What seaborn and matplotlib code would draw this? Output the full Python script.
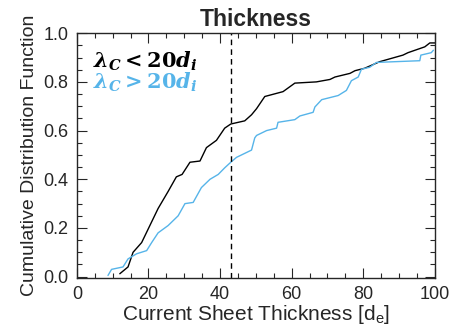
import numpy as np
import pandas as pd
import seaborn as sns
import matplotlib
matplotlib.use("Agg")
import matplotlib.pyplot as plt
from matplotlib.ticker import MultipleLocator, FormatStrFormatter

# Black curve (lambda_C < 20 d_i)
x_small = [12.0, 14.3, 15.7, 18.1, 20.4, 22.7, 25.5, 27.8, 29.4, 31.6, 34.4, 36.2, 39.0, 41.3,
           43.0, 46.9, 48.8, 50.2, 52.5, 57.6, 60.9, 66.9, 70.7, 72.1, 76.3, 77.7, 80.4,
           84.6, 91.1, 92.5, 97.2, 98.6, 100.0]
y_small = [0.012, 0.04, 0.10, 0.14, 0.21, 0.28, 0.35, 0.41, 0.42, 0.47, 0.475, 0.53, 0.56, 0.61,
           0.627, 0.64, 0.665, 0.69, 0.74, 0.76, 0.795, 0.80, 0.81, 0.82, 0.835, 0.846, 0.856,
           0.883, 0.91, 0.92, 0.944, 0.96, 0.96]

# Blue curve (lambda_C > 20 d_i)
x_large = [8.7, 9.7, 12.9, 14.3, 16.7, 19.5, 20.9, 22.7, 25.5, 28.3, 30.2, 32.5, 34.8, 37.2,
           39.5, 41.3, 43.0, 44.6, 46.0, 48.8, 49.7, 50.2, 53.0, 55.8, 56.2, 60.9, 62.3, 66.0,
           66.5, 68.4, 73.0, 75.3, 76.7, 78.6, 79.5, 81.8, 83.7, 95.8, 96.1, 99.0, 99.6]
y_large = [0.005, 0.03, 0.04, 0.073, 0.094, 0.107, 0.14, 0.18, 0.21, 0.25, 0.30, 0.305, 0.366, 0.40,
           0.42, 0.447, 0.47, 0.49, 0.50, 0.52, 0.57, 0.58, 0.60, 0.61, 0.634, 0.645, 0.66, 0.675,
           0.697, 0.727, 0.744, 0.765, 0.805, 0.82, 0.852, 0.86, 0.88, 0.887, 0.91, 0.92, 0.93]

threshold = 43.0
labels = [r'$\lambda_C < 20d_i$', r'$\lambda_C > 20d_i$']
colors = ['black', '#56B4E9']

sns.set_style("ticks")
plt.rcParams['font.family'] = ['Liberation Sans', 'DejaVu Sans']
plt.rcParams['mathtext.fontset'] = 'custom'
plt.rcParams['mathtext.rm'] = 'DejaVu Serif:bold'
plt.rcParams['mathtext.it'] = 'DejaVu Serif:bold:italic'
plt.rcParams['mathtext.bf'] = 'DejaVu Serif:bold'

fig = plt.figure(figsize=(4.52, 3.32), dpi=100)
ax = fig.add_axes([0.170, 0.163, 0.792, 0.737])

df_s = pd.DataFrame({'x': x_small, 'y': y_small})
df_l = pd.DataFrame({'x': x_large, 'y': y_large})
sns.lineplot(data=df_s, x='x', y='y', color=colors[0], lw=1.0, sort=False, estimator=None, ax=ax)
sns.lineplot(data=df_l, x='x', y='y', color=colors[1], lw=1.0, sort=False, estimator=None, ax=ax)
ax.axvline(threshold, color='black', ls=(0, (4, 3)), lw=1.0)

ax.set_xlim(0, 100)
ax.set_ylim(-0.005, 1.0)
ax.xaxis.set_major_locator(MultipleLocator(20))
ax.xaxis.set_minor_locator(MultipleLocator(5))
ax.yaxis.set_major_locator(MultipleLocator(0.2))
ax.yaxis.set_minor_locator(MultipleLocator(0.05))
ax.yaxis.set_major_formatter(FormatStrFormatter('%.1f'))
ax.tick_params(which='both', direction='in', top=True, right=True, labelsize=13, width=0.8)
ax.tick_params(which='major', length=7, pad=6)
ax.tick_params(which='minor', length=3.5)
for s in ax.spines.values():
    s.set_linewidth(1.0)

ax.set_xlabel(r'Current Sheet Thickness [d$_\mathregular{e}$]', fontsize=15, labelpad=0)
ax.set_ylabel('Cumulative Distribution Function', fontsize=14, labelpad=4)
ax.set_title('Thickness', fontsize=16.5, fontweight='bold', pad=5)

ax.text(0.045, 0.886, labels[0], color=colors[0], fontsize=15, transform=ax.transAxes, va='center')
ax.text(0.045, 0.800, labels[1], color=colors[1], fontsize=15, transform=ax.transAxes, va='center')

fig.savefig('out.png', dpi=100)
